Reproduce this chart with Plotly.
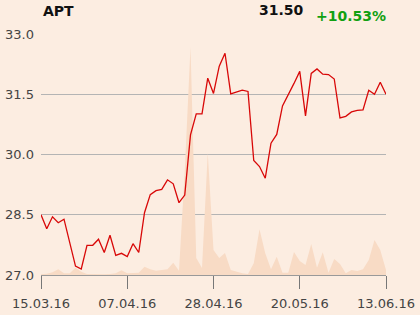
import plotly.graph_objects as go

# Data
tick_labels = ["15.03.16", "07.04.16", "28.04.16", "20.05.16", "13.06.16"]
tick_index = [0, 15, 30, 45, 60]

price = [28.50, 28.15, 28.45, 28.30, 28.39, 27.82, 27.22, 27.15, 27.74, 27.74,
         27.89, 27.56, 27.99, 27.49, 27.54, 27.46, 27.78, 27.56, 28.55, 29.00,
         29.10, 29.13, 29.37, 29.27, 28.80, 28.99, 30.49, 31.01, 31.01, 31.90,
         31.52, 32.20, 32.52, 31.51, 31.56, 31.60, 31.57, 29.85, 29.70, 29.41,
         30.28, 30.50, 31.21, 31.48, 31.77, 32.07, 30.96, 32.02, 32.13, 32.00,
         31.99, 31.88, 30.91, 30.95, 31.06, 31.10, 31.11, 31.60, 31.50, 31.80,
         31.50]

volume = [0.7, 1.3, 2.7, 5.7, 1.7, 1.7, 7.3, 3.3, 1.0, 0.7,
          0.7, 0.7, 1.0, 1.7, 4.7, 1.7, 2.0, 2.3, 8.3, 5.7,
          4.3, 5.0, 5.7, 12.3, 4.3, 104, 228, 17, 7, 122,
          25, 17, 22, 5, 3.3, 1.7, 1.0, 11.7, 45.7, 21.7,
          5.7, 18.3, 2.3, 2.3, 23, 14, 10, 31, 7.3, 22.7,
          2.3, 16, 11, 1.7, 5, 4, 5.7, 15, 35, 25,
          5]

idx = list(range(len(price)))

ticker = "APT"
last_price = "31.50"
change = "+10.53%"

BG = "#fcede1"

fig = go.Figure()
# volume on the (hidden) primary axis so it sits beneath the price line
fig.add_trace(go.Scatter(x=idx, y=volume, yaxis="y", mode="lines",
                         line=dict(width=0, color="#f8dbc5"),
                         fill="tozeroy", fillcolor="#f8dbc5",
                         hoverinfo="skip", showlegend=False))
fig.add_trace(go.Scatter(x=idx, y=price, yaxis="y2", mode="lines",
                         line=dict(color="#d80808", width=1.3),
                         showlegend=False))

fig.update_layout(
    width=420, height=315,
    margin=dict(l=41, r=34, t=34, b=40, autoexpand=False),
    paper_bgcolor=BG, plot_bgcolor=BG,
    font=dict(family="DejaVu Sans", size=12, color="#444444"),
    xaxis=dict(range=[0, 60], tickvals=tick_index, ticktext=tick_labels,
               ticks="outside", ticklen=13, tickcolor="#777777", tickwidth=1,
               showgrid=False, zeroline=False, showline=True,
               linecolor="#999999", linewidth=1, automargin=False,
               ticklabelstandoff=3,
               tickfont=dict(size=13, color="#444444")),
    yaxis=dict(range=[0, 241], visible=False, showgrid=False,
               zeroline=False, automargin=False),
    yaxis2=dict(range=[27, 33], tickvals=[27, 28.5, 30, 31.5, 33],
                ticktext=["27.0", "28.5", "30.0", "31.5", "33.0"],
                overlaying="y", side="left", anchor="x",
                showgrid=True, gridcolor="#b4b4b4", gridwidth=1,
                zeroline=False, showline=False, ticks="",
                ticklabelstandoff=6, automargin=False,
                tickfont=dict(size=13, color="#444444")),
    annotations=[
        dict(text="<b>" + ticker + "</b>", xref="paper", yref="paper",
             x=0.0, y=1.095, xanchor="left", yanchor="middle",
             showarrow=False, font=dict(size=14, color="#111111")),
        dict(text="<b>" + last_price + "</b>", xref="paper", yref="paper",
             x=0.768, y=1.099, xanchor="right", yanchor="middle",
             showarrow=False, font=dict(size=14, color="#111111")),
        dict(text="<b>" + change + "</b>", xref="paper", yref="paper",
             x=0.791, y=1.075, xanchor="left", yanchor="middle",
             showarrow=False, font=dict(size=14, color="#11a011")),
    ],
)

fig.write_html("out.html")
